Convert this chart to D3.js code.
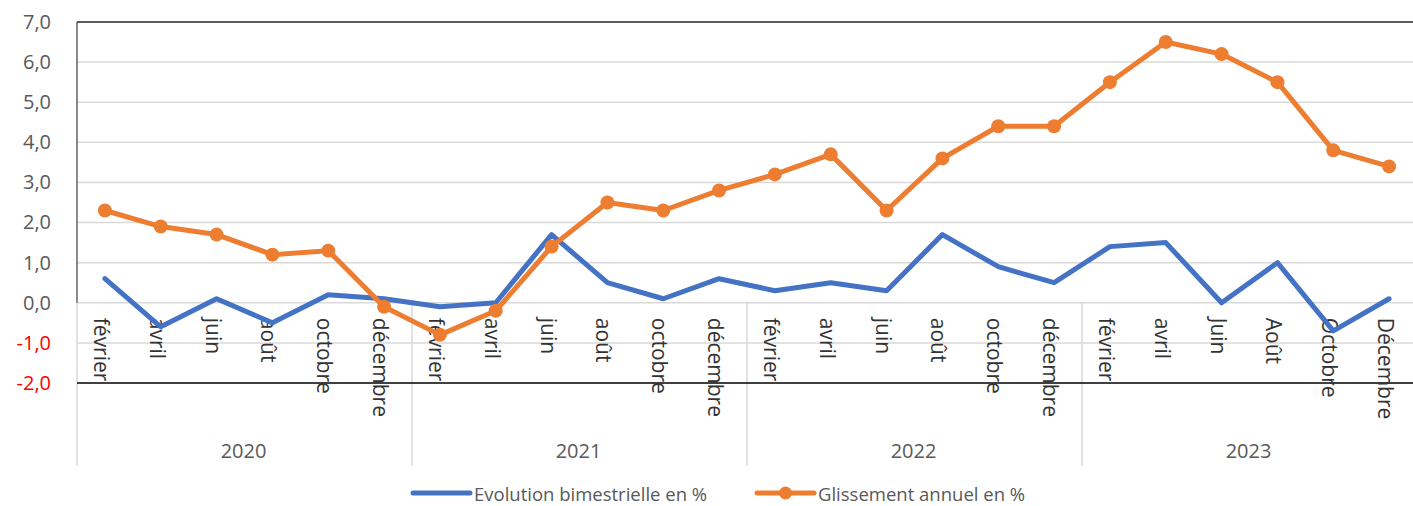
<!DOCTYPE html>
<html>
<head>
<meta charset="utf-8">
<script src="https://cdn.jsdelivr.net/npm/d3@7"></script>
<style>
  html, body { margin: 0; padding: 0; background: #fff; }
  svg { display: block; font-family: "Open Sans", "Liberation Sans", sans-serif; }
</style>
</head>
<body>
<svg id="chart" width="1413" height="506"></svg>
<script>
const years = ["2020", "2021", "2022", "2023"];
const months2020 = ["février", "avril", "juin", "août", "octobre", "décembre"];
const months2021 = ["février", "avril", "juin", "août", "octobre", "décembre"];
const months2022 = ["février", "avril", "juin", "août", "octobre", "décembre"];
const months2023 = ["février", "avril", "Juin", "Août", "Octobre", "Décembre"];
const evolution = [0.6, -0.6, 0.1, -0.5, 0.2, 0.1,
                   -0.1, 0.0, 1.7, 0.5, 0.1, 0.6,
                   0.3, 0.5, 0.3, 1.7, 0.9, 0.5,
                   1.4, 1.5, 0.0, 1.0, -0.7, 0.1];
const glissement = [2.3, 1.9, 1.7, 1.2, 1.3, -0.1,
                    -0.8, -0.2, 1.4, 2.5, 2.3, 2.8,
                    3.2, 3.7, 2.3, 3.6, 4.4, 4.4,
                    5.5, 6.5, 6.2, 5.5, 3.8, 3.4];
const yTicks = [-2, -1, 0, 1, 2, 3, 4, 5, 6, 7];
const seriesNames = ["Evolution bimestrielle en %", "Glissement annuel en %"];

const monthsByYear = [months2020, months2021, months2022, months2023];
const categories = [];
monthsByYear.forEach((ms, yi) => ms.forEach(m => categories.push({ year: years[yi], month: m })));

const BLUE = "#4472C4", ORANGE = "#ED7D31";
const svg = d3.select("#chart");

const pLeft = 77, pRight = 1417, pTop = 22, pBottom = 383;
const x = d3.scaleBand().domain(d3.range(categories.length)).range([pLeft, pRight]).padding(0);
const cx = i => x(i) + x.bandwidth() / 2;
const y = d3.scaleLinear().domain([-2, 7]).range([pBottom, pTop]);
const xYear = d3.scaleBand().domain(years).range([pLeft, pRight]).padding(0);

// gridlines
svg.append("g").selectAll("line").data(yTicks.filter(t => t !== -2 && t !== 7)).join("line")
  .attr("x1", pLeft).attr("x2", pRight)
  .attr("y1", d => y(d)).attr("y2", d => y(d))
  .attr("stroke", "#D9D9D9").attr("stroke-width", 1.5);

// year separators
const catBottom = 466;
svg.append("g").selectAll("line").data(years).join("line")
  .attr("x1", d => xYear(d)).attr("x2", d => xYear(d))
  .attr("y1", y(0)).attr("y2", catBottom)
  .attr("stroke", "#D9D9D9").attr("stroke-width", 1.5);

// top border, left axis, bottom line
svg.append("line").attr("x1", pLeft).attr("x2", pRight).attr("y1", y(7)).attr("y2", y(7))
  .attr("stroke", "#262626").attr("stroke-width", 1.5);
svg.append("line").attr("x1", pLeft).attr("x2", pLeft).attr("y1", y(7)).attr("y2", y(0))
  .attr("stroke", "#404040").attr("stroke-width", 1.2);
svg.append("line").attr("x1", pLeft).attr("x2", pRight).attr("y1", y(-2)).attr("y2", y(-2))
  .attr("stroke", "#000").attr("stroke-width", 1.5);

// y axis labels
const yAxis = d3.axisLeft(y).tickValues(yTicks).tickSize(0).tickPadding(0)
  .tickFormat(d => d3.format(".1f")(d).replace(".", ",").replace("−", "-"));
const yg = svg.append("g").attr("transform", `translate(${51},0)`).call(yAxis);
yg.select(".domain").remove();
yg.selectAll("text")
  .attr("font-size", 20)
  .attr("font-family", "'Open Sans', sans-serif")
  .attr("fill", d => d < 0 ? "#FF0000" : "#595959");

// month labels (rotated)
svg.append("g").selectAll("text").data(categories).join("text")
  .attr("transform", (d, i) => `translate(${cx(i) - 3},${y(0) + 15}) rotate(90)`)
  .attr("text-anchor", "start")
  .attr("dominant-baseline", "central")
  .attr("font-size", 21)
  .attr("fill", "#333333")
  .text(d => d.month);

// year labels
svg.append("g").selectAll("text").data(years).join("text")
  .attr("x", d => xYear(d) + xYear.bandwidth() / 2 - 1)
  .attr("y", 458)
  .attr("text-anchor", "middle")
  .attr("font-size", 20)
  .attr("fill", "#595959")
  .text(d => d);

// lines
const line = d3.line().x((d, i) => cx(i)).y(d => y(d));
svg.append("path").datum(evolution).attr("d", line)
  .attr("fill", "none").attr("stroke", BLUE).attr("stroke-width", 5)
  .attr("stroke-linejoin", "round").attr("stroke-linecap", "round");
svg.append("path").datum(glissement).attr("d", line)
  .attr("fill", "none").attr("stroke", ORANGE).attr("stroke-width", 5)
  .attr("stroke-linejoin", "round").attr("stroke-linecap", "round");
svg.append("g").selectAll("circle").data(glissement).join("circle")
  .attr("cx", (d, i) => cx(i)).attr("cy", d => y(d)).attr("r", 7)
  .attr("fill", ORANGE);

// legend
const legendY = 493;
const leg = svg.append("g");
const legItems = [
  { name: seriesNames[0], color: BLUE, x0: 413, marker: false },
  { name: seriesNames[1], color: ORANGE, x0: 757, marker: true }
];
legItems.forEach(it => {
  leg.append("line").attr("x1", it.x0).attr("x2", it.x0 + 57)
    .attr("y1", legendY).attr("y2", legendY)
    .attr("stroke", it.color).attr("stroke-width", 5).attr("stroke-linecap", "round");
  if (it.marker) leg.append("circle").attr("cx", it.x0 + 28.5).attr("cy", legendY).attr("r", 6.5).attr("fill", it.color);
  leg.append("text").attr("x", it.x0 + 61).attr("y", legendY).attr("dominant-baseline", "central")
    .attr("font-size", 18.5).attr("fill", "#595959").text(it.name);
});
</script>
</body>
</html>
